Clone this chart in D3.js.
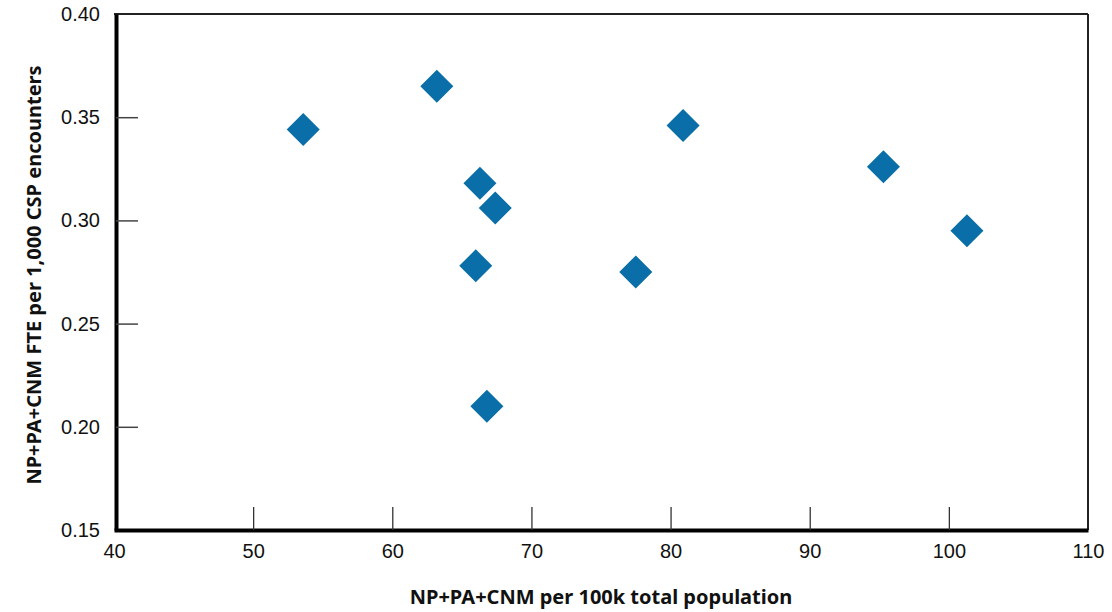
<!DOCTYPE html>
<html>
<head>
<meta charset="utf-8">
<script src="https://cdn.jsdelivr.net/npm/d3@7"></script>
<style>
  body { margin: 0; background: #fff; }
  svg { display: block; }
</style>
</head>
<body>
<svg id="chart" width="1112" height="612"></svg>
<script>
const xValues = [53.6, 63.2, 66.3, 67.4, 66.0, 66.8, 77.5, 80.9, 95.3, 101.3];
const yValues = [0.344, 0.365, 0.318, 0.306, 0.278, 0.210, 0.275, 0.346, 0.326, 0.295];
const xTicks = [40, 50, 60, 70, 80, 90, 100, 110];
const yTicks = [0.15, 0.20, 0.25, 0.30, 0.35, 0.40];
const xTitle = "NP+PA+CNM per 100k total population";
const yTitle = "NP+PA+CNM FTE per 1,000 CSP encounters";

(function () {
const svg = d3.select("#chart");
const mLeft = 114, mRight = 1088, mTop = 14, mBottom = 530;

const x = d3.scaleLinear().domain([40, 110]).range([mLeft, mRight]);
const y = d3.scaleLinear().domain([0.15, 0.40]).range([mBottom, mTop]);

// top & right border
svg.append("line").attr("x1", mLeft).attr("x2", mRight).attr("y1", mTop).attr("y2", mTop)
  .attr("stroke", "#222").attr("stroke-width", 2);
svg.append("line").attr("x1", mRight).attr("x2", mRight).attr("y1", mTop).attr("y2", mBottom)
  .attr("stroke", "#222").attr("stroke-width", 2);

// x axis
const xAxis = svg.append("g").attr("transform", `translate(0,${mBottom})`)
  .call(d3.axisBottom(x).tickValues(xTicks).tickSize(0).tickPadding(14).tickFormat(d3.format("d")));
xAxis.select(".domain").attr("stroke", "#000").attr("stroke-width", 4);
xAxis.selectAll("text").attr("font-family", "Liberation Sans, Arial, sans-serif")
  .attr("font-size", 20).attr("fill", "#111");
xAxis.selectAll(".tick").filter(d => d > 40 && d < 110).append("line")
  .attr("y1", 0).attr("y2", -23).attr("stroke", "#333").attr("stroke-width", 1.3);

// y axis
const yAxis = svg.append("g").attr("transform", `translate(${mLeft + 2},0)`)
  .call(d3.axisLeft(y).tickValues(yTicks).tickSize(0).tickPadding(16).tickFormat(d3.format(".2f")));
yAxis.select(".domain").attr("stroke", "#000").attr("stroke-width", 4);
yAxis.selectAll("text").attr("font-family", "Liberation Sans, Arial, sans-serif")
  .attr("font-size", 20).attr("fill", "#111");
yAxis.selectAll(".tick").filter(d => d > 0.151 && d < 0.399).append("line")
  .attr("x1", 0).attr("x2", 22).attr("stroke", "#444").attr("stroke-width", 1.5);

// points
const data = xValues.map((v, i) => ({ x: v, y: yValues[i] }));
const diamond = d3.symbol().type(d3.symbolSquare).size(545);
svg.append("g").selectAll("path").data(data).join("path")
  .attr("d", diamond)
  .attr("transform", d => `translate(${x(d.x)},${y(d.y)}) rotate(45)`)
  .attr("fill", "#0a6ea8");

// titles
svg.append("text").attr("x", 601).attr("y", 604).attr("text-anchor", "middle")
  .attr("font-family", "Noto Sans, Open Sans, sans-serif").attr("font-weight", "bold")
  .attr("font-size", 20).attr("fill", "#111").text(xTitle);
svg.append("text").attr("transform", `translate(41,275) rotate(-90)`).attr("text-anchor", "middle")
  .attr("font-family", "Noto Sans, Open Sans, sans-serif").attr("font-weight", "bold")
  .attr("font-size", 20).attr("fill", "#111").text(yTitle);
})();
</script>
</body>
</html>
